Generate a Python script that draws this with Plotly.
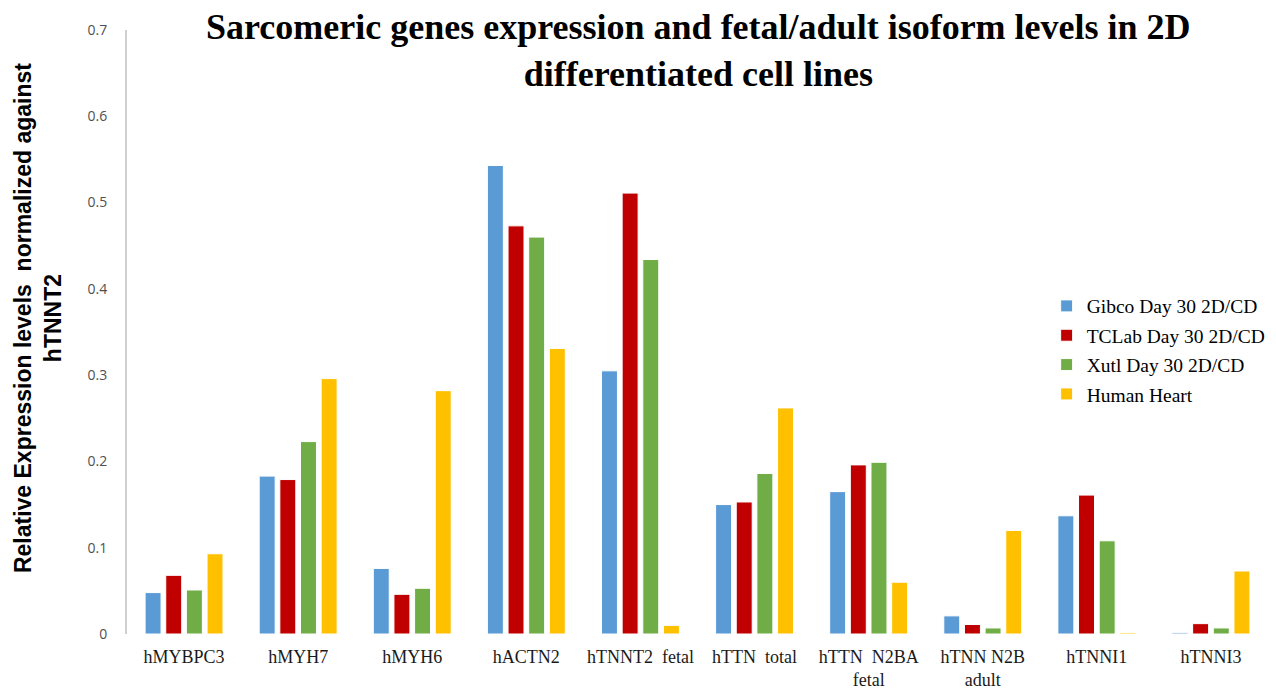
import plotly.graph_objects as go

genes = ["hMYBPC3", "hMYH7", "hMYH6", "hACTN2", "hTNNT2  fetal", "hTTN  total",
         "hTTN  N2BA<br>fetal", "hTNN N2B<br>adult", "hTNNI1", "hTNNI3"]

gibco = [0.048, 0.183, 0.076, 0.543, 0.305, 0.150, 0.165, 0.021, 0.137, 0.0015]
tclab = [0.068, 0.179, 0.046, 0.473, 0.511, 0.153, 0.196, 0.011, 0.161, 0.012]
xutl = [0.051, 0.223, 0.053, 0.460, 0.434, 0.186, 0.199, 0.007, 0.108, 0.007]
heart = [0.093, 0.296, 0.282, 0.331, 0.010, 0.262, 0.060, 0.120, 0.0015, 0.073]

series = [
    ("Gibco Day 30 2D/CD", gibco, "#5B9BD5"),
    ("TCLab Day 30 2D/CD", tclab, "#C00000"),
    ("Xutl Day 30 2D/CD", xutl, "#70AD47"),
    ("Human Heart", heart, "#FFC000"),
]

fig = go.Figure()
for name, vals, color in series:
    fig.add_trace(go.Bar(
        x=genes, y=vals, name=name, legendgroup=name,
        marker=dict(color=color, line=dict(color="white", width=1)),
    ))

fig.update_layout(
    width=1276, height=699,
    margin=dict(l=127, r=5, t=30, b=65),
    paper_bgcolor="white", plot_bgcolor="white",
    barmode="group", bargap=0.276, bargroupgap=0.227,
    legend=dict(
        x=0.806, y=0.575, xanchor="left", yanchor="top",
        font=dict(family="Liberation Serif", size=19.5, color="black"),
        traceorder="grouped", tracegroupgap=1,
        bgcolor="rgba(0,0,0,0)",
    ),
    showlegend=True,
)

fig.update_xaxes(
    showline=False, showgrid=False, ticks="", ticklabelstandoff=10,
    tickfont=dict(family="Liberation Serif", size=18, color="#1a1a1a"),
    tickangle=0,
)
fig.update_yaxes(
    range=[0, 0.7], dtick=0.1, tick0=0,
    showgrid=False, zeroline=False,
    showline=True, linecolor="#d0d0d0", linewidth=2,
    ticks="", ticklabelstandoff=15,
    tickfont=dict(family="Open Sans", size=14, color="#505050"),
)

# chart title
fig.add_annotation(
    text="Sarcomeric genes expression and fetal/adult isoform levels in 2D<br>differentiated cell lines",
    xref="paper", yref="paper", x=0.501, y=1.042,
    xanchor="center", yanchor="top", showarrow=False,
    font=dict(family="Liberation Serif", size=36, color="black", weight="bold"),
)

# y-axis title
fig.add_annotation(
    text="Relative Expression levels  normalized against<br>hTNNT2",
    xref="paper", yref="paper", x=-0.078, y=0.523,
    xanchor="center", yanchor="middle", textangle=-90, showarrow=False,
    font=dict(family="Liberation Sans", size=23, color="black", weight="bold"),
)

fig.write_html("out.html")
